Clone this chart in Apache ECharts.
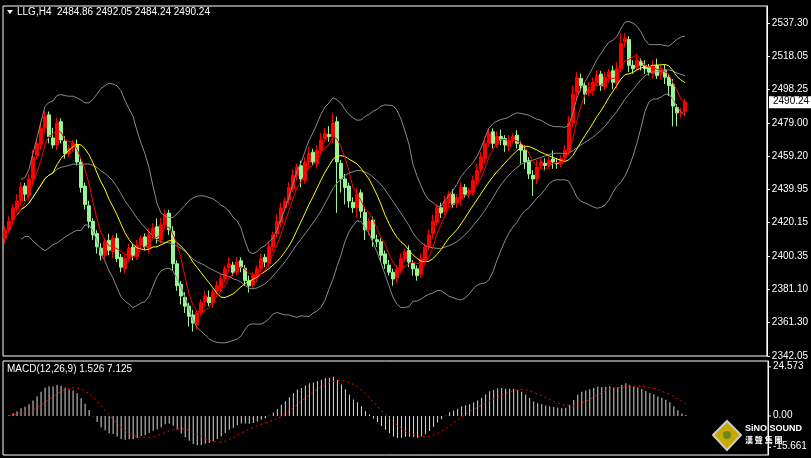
<!DOCTYPE html>
<html><head><meta charset="utf-8">
<script src="https://cdn.jsdelivr.net/npm/echarts@6/dist/echarts.min.js"></script>
<style>html,body{margin:0;background:#000}#c{width:811px;height:458px}</style>
</head><body><div id="c"></div>
<script>
const closes=[2415,2420,2428,2432,2440,2436,2445,2458,2466,2475,
2482,2470,2465,2478,2468,2460,2463,2466,2455,2440,
2430,2420,2412,2405,2400,2408,2403,2410,2398,2393,
2398,2404,2400,2406,2410,2405,2412,2416,2410,2418,
2424,2415,2395,2382,2376,2370,2364,2360,2366,2372,
2376,2372,2378,2382,2386,2392,2395,2390,2396,2393,
2385,2382,2388,2392,2398,2396,2405,2412,2420,2428,
2432,2440,2447,2452,2445,2455,2460,2455,2462,2468,
2472,2470,2478,2455,2445,2440,2432,2428,2436,2426,
2415,2420,2410,2408,2400,2395,2390,2386,2392,2398,
2402,2396,2392,2388,2398,2405,2412,2420,2428,2425,
2432,2436,2430,2434,2440,2436,2438,2444,2450,2458,
2466,2472,2466,2470,2468,2465,2468,2470,2466,2462,
2455,2448,2445,2452,2455,2453,2456,2455,2454,2457,
2462,2478,2495,2505,2500,2495,2498,2502,2506,2500,
2505,2508,2502,2510,2525,2528,2512,2510,2515,2512,
2510,2508,2512,2506,2510,2505,2500,2488,2484,2484,2490.24];
const wickUp=[2,3,2,4,3,2,3,4,3,4,3,2,6,3,2,3,2,2,3,2,
2,3,2,2,3,2,4,2,3,2,2,3,2,3,2,2,4,3,5,4,
3,2,3,2,2,3,2,3,2,2,3,4,2,3,3,2,4,2,3,2,
2,3,2,2,3,2,3,2,4,3,2,3,4,2,3,3,4,2,3,4,
3,5,6,3,2,3,2,3,4,2,3,2,2,3,2,2,3,2,2,3,
2,3,2,2,3,2,3,4,2,3,3,2,3,2,3,2,2,3,4,3,
4,3,2,3,4,2,3,2,3,2,3,2,3,4,2,3,2,5,3,2,
3,4,5,3,3,2,4,3,3,2,3,2,3,4,6,3,2,3,4,2,
3,2,3,4,2,3,2,3,2,3,2];
const wickDn=[3,2,3,2,3,4,2,3,2,3,3,4,2,3,2,3,2,3,2,3,
3,4,3,4,3,2,3,4,2,3,3,2,3,2,3,2,3,2,3,2,
2,3,4,3,5,4,6,5,3,2,3,2,3,2,3,2,3,2,2,3,
3,4,2,3,2,3,2,3,2,3,2,3,2,3,5,2,3,2,3,2,
2,3,4,30,8,10,4,3,6,4,6,3,5,3,4,3,2,4,3,2,
2,3,4,3,2,3,2,3,2,3,2,3,2,3,4,2,3,2,3,2,
3,2,3,2,3,4,3,2,3,8,4,3,10,3,2,3,2,4,3,2,
3,2,3,4,3,6,2,3,2,3,2,3,4,3,2,3,4,3,2,3,
3,2,3,2,3,4,6,12,8,3,3];
const yTicks=[2342.05,2361.30,2381.10,2400.35,2420.15,2439.95,2459.20,2479.00,2498.25,2518.05,2537.30];
const macdTicks=[-15.661,0,24.573];
const pad=20;

const N=closes.length;
const cats=[];for(let i=0;i<N+pad;i++)cats.push(i);
const ohlc=closes.map((c,i)=>{const o=i?closes[i-1]+(i%3-1)*0.8:2410;return [o,c,Math.min(o,c)-wickDn[i],Math.max(o,c)+wickUp[i]];});
function sma(a,n,st){return a.map((v,i)=>{const k=Math.min(n,i+1);if(i<(st||n-1))return null;return a.slice(i-k+1,i+1).reduce((s,x)=>s+x,0)/k;});}
function ema(a,n){const k=2/(n+1);let e=a[0];return a.map(v=>(e=v*k+e*(1-k)));}
const ma20=sma(closes,20,4),up=[],dn=[];
closes.forEach((c,i)=>{if(ma20[i]==null){up.push(null);dn.push(null);return;}const k=Math.min(20,i+1);const s=closes.slice(i-k+1,i+1);const sd=Math.sqrt(s.reduce((a,x)=>a+(x-ma20[i])**2,0)/k);up.push(ma20[i]+2*sd);dn.push(ma20[i]-2*sd);});
const e12=ema(closes,12),e26=ema(closes,26);
const macd=closes.map((c,i)=>e12[i]-e26[i]);
const sig=sma(macd,9,1);
const ch=echarts.init(document.getElementById('c'));
const tickFmt=v=>{let b=yTicks[0];yTicks.forEach(t=>{if(Math.abs(t-v)<Math.abs(b-v))b=t;});return b.toFixed(2);};
const FONT='"Liberation Sans"';
const lbl={color:'#fff',fontFamily:'Liberation Sans',fontSize:10,margin:5};
const ln=(d,c,x,w)=>({type:'line',data:d,xAxisIndex:x||0,yAxisIndex:x||0,symbol:'none',lineStyle:{color:c,width:w||1},silent:true});
ch.setOption({backgroundColor:'#000',animation:false,
grid:[{left:3,width:765,top:6,height:350,show:true,borderColor:'#fff',borderWidth:1},
{left:3,width:765,top:361,height:94,show:true,borderColor:'#fff',borderWidth:1}],
xAxis:[{type:'category',data:cats,gridIndex:0,show:false},{type:'category',data:cats,gridIndex:1,show:false}],
yAxis:[{gridIndex:0,position:'right',min:2340.6,max:2547,interval:19.65,splitLine:{show:false},
axisLine:{show:true,lineStyle:{color:'#fff'}},axisTick:{show:true,length:3,lineStyle:{color:'#fff'}},
axisLabel:Object.assign({formatter:tickFmt,showMaxLabel:false,showMinLabel:true},lbl)},
{gridIndex:1,position:'right',min:-19.5,max:27.5,splitLine:{show:false},
axisLine:{show:true,lineStyle:{color:'#fff'}},axisTick:{show:false},axisLabel:{show:false}}],
series:[
{type:'candlestick',data:ohlc,barWidth:3,itemStyle:{color:'#ff0000',color0:'#98f598',borderColor:'#ff0000',borderColor0:'#98f598'}},
ln(up,'#8a8a8a'),ln(dn,'#8a8a8a'),ln(ma20,'#8a8a8a'),
ln(sma(closes,13,3),'#ffff00'),ln(sma(closes,5,1),'#ff0000'),
{type:'bar',data:macd,xAxisIndex:1,yAxisIndex:1,barWidth:1,itemStyle:{color:'#d8d8d8'},silent:true},
{type:'line',data:sig,xAxisIndex:1,yAxisIndex:1,symbol:'none',lineStyle:{color:'#ff0000',width:1,type:[2,3]},silent:true}
]});
const g=[];
const tx=(x,y,t,o)=>({type:'text',x:x,y:y,style:Object.assign({text:t,fill:'#fff',font:'10px '+FONT},o||{})});
g.push({type:'polygon',shape:{points:[[7,10],[13,10],[10,14]]},style:{fill:'#fff'}});
g.push(tx(17,7,'LLG,H4  2484.86 2492.05 2484.24 2490.24'));
g.push(tx(7,364,'MACD(12,26,9) 1.526 7.125'));
macdTicks.forEach(t=>{const p=ch.convertToPixel({yAxisIndex:1},t);g.push(tx(773,p-6,t===0?'0.00':t.toFixed(3)));g.push({type:'line',shape:{x1:768,y1:p,x2:771,y2:p},style:{stroke:'#fff'}});});
const lp=ch.convertToPixel({yAxisIndex:0},closes[N-1]);
g.push({type:'rect',shape:{x:769,y:lp-6,width:42,height:12},style:{fill:'#fff'}});
g.push(tx(773,lp-6,closes[N-1].toFixed(2),{fill:'#000'}));
g.push({type:'polygon',shape:{points:[[713,435],[727,421],[741,435],[727,450]]},style:{fill:'#c9a800',stroke:'#ccc',lineWidth:2}});
g.push({type:'circle',shape:{cx:727,cy:435,r:4},style:{fill:'#6a8a20'}});
g.push(tx(745,424,'SiNO SOUND',{font:'bold 9px '+FONT}));
g.push(tx(745,436,'漢 聲 集 團',{font:'bold 8px "Noto Sans CJK TC"'}));
ch.setOption({graphic:g});
</script></body></html>
